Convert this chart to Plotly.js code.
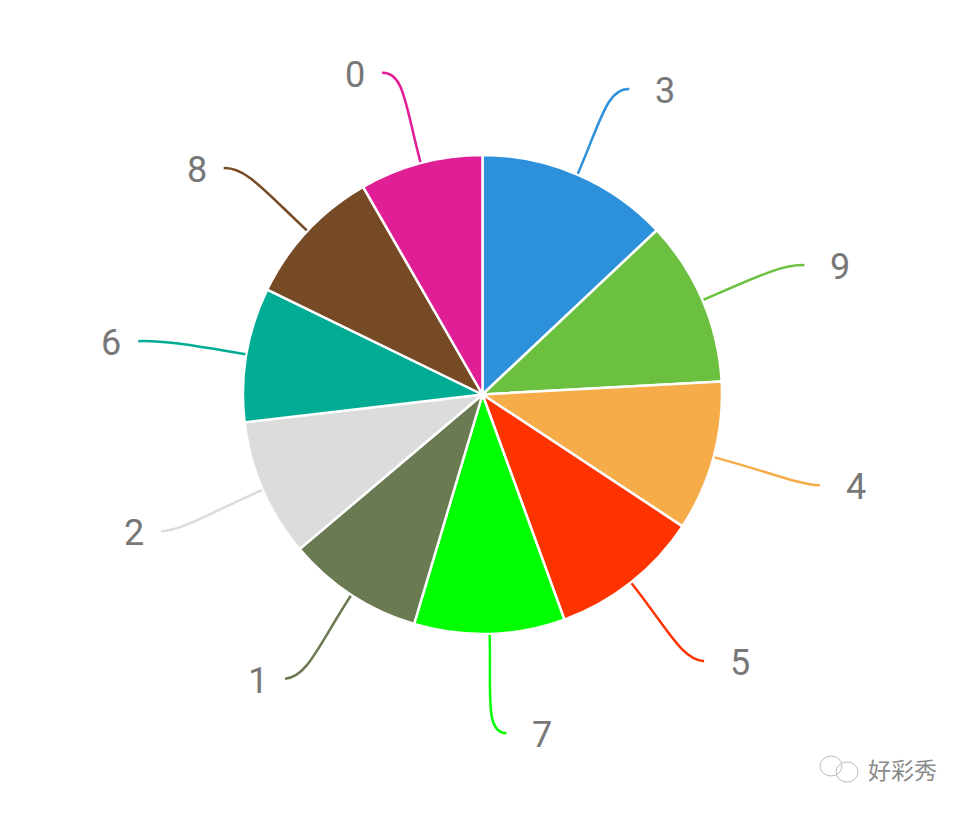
<!DOCTYPE html>
<html><head><meta charset="utf-8">
<script src="https://cdn.plot.ly/plotly-3.0.1.min.js"></script>
<style>html,body{margin:0;padding:0;background:#fff}</style></head>
<body><div id="chart" style="width:969px;height:813px"></div>
<script>
const categories = ["3","9","4","5","7","1","2","6","8","0"];
const values = [46.7,40.2,36.5,36.6,36.6,33.2,33.5,32.7,34.1,29.9];
const colors = ["#2d90db","#6cc040","#f6ac48","#ff3300","#00ff00","#6a7a52","#dcdcdc","#00ac94","#774a26","#e01e96"];
const watermark = "好彩秀";

const W=969,H=813,cx=482.5,cy=394.5,R=239.5;
const px=x=>x/W, py=y=>1-y/H;
const pt=(x,y)=>px(x).toFixed(5)+","+py(y).toFixed(5);
const total=values.reduce((a,b)=>a+b,0);
let acc=0;const shapes=[],annotations=[];
values.forEach((v,i)=>{
  const a=(acc+v/2)/total*2*Math.PI;acc+=v;
  const s=Math.sin(a),c=Math.cos(a),dir=s>=0?1:-1;
  const x0=cx+(R+1)*s,y0=cy-(R+1)*c,x1=cx+(R+60)*s,y1=cy-(R+60)*c;
  const ex=cx+335*s+14*dir,ey=cy-336*c+3;
  const d="M"+pt(x0,y0)+" C"+pt(x1,y1)+" "+pt(ex-22*dir,ey-1)+" "+pt(ex,ey);
  shapes.push({type:"path",xref:"paper",yref:"paper",path:d,line:{color:colors[i],width:2.5}});
  annotations.push({xref:"paper",yref:"paper",x:px(ex+(dir>0?36:-27)),y:py(ey+2),text:categories[i],showarrow:false,
    xanchor:"center",yanchor:"middle",font:{family:"Roboto",size:36,color:"#777"}});
});
annotations.push({xref:"paper",yref:"paper",x:px(902),y:py(769),text:watermark,showarrow:false,xanchor:"center",yanchor:"middle",
  font:{family:"Noto Sans CJK SC",size:23,color:"#8a8a8a"}});
const circle=(x,y,rx,ry)=>({type:"circle",xref:"paper",yref:"paper",x0:px(x-rx),x1:px(x+rx),y0:py(y+ry),y1:py(y-ry),line:{color:"#bbb",width:1}});
shapes.push(circle(831,766,11,10),circle(847,772,11,10));
Plotly.newPlot("chart",[{type:"pie",labels:categories,values:values,sort:false,direction:"clockwise",rotation:0,
  textinfo:"none",hoverinfo:"label+value",marker:{colors:colors,line:{color:"#ffffff",width:2.5}},
  domain:{x:[(cx-R)/W,(cx+R)/W],y:[1-(cy+R)/H,1-(cy-R)/H]}}],
  {width:W,height:H,margin:{l:0,r:0,t:0,b:0},showlegend:false,paper_bgcolor:"#fff",shapes:shapes,annotations:annotations},
  {displayModeBar:false});
</script></body></html>
